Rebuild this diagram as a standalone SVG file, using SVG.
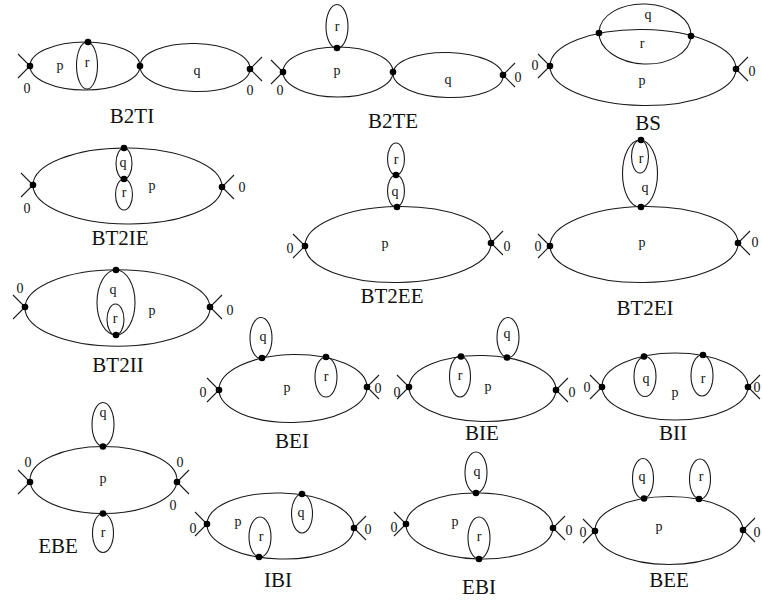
<svg xmlns="http://www.w3.org/2000/svg" xmlns:xlink="http://www.w3.org/1999/xlink" width="762" height="601" viewBox="0 0 762 601">
<style>
  .ln{fill:none;stroke:#1a1a1a;stroke-width:1.1}
  .t{font-family:"Liberation Serif","Times New Roman",serif;font-size:14px;fill:#111;text-anchor:middle}
  .ttl{font-family:"Liberation Serif","Times New Roman",serif;font-size:21px;fill:#111;text-anchor:middle}
</style>
<defs>
  <circle id="dot" r="3.3" fill="#000"/>
  <path id="xl" d="M-12,-12 L0,0 L-12,12" fill="none" stroke="#1a1a1a" stroke-width="1.1"/>
  <path id="xr" d="M12,-12 L0,0 L12,12" fill="none" stroke="#1a1a1a" stroke-width="1.1"/>
</defs>
<rect width="762" height="601" fill="#fff"/>

<g id="B2TI">
  <ellipse class="ln" cx="85" cy="66" rx="55" ry="24"/>
  <ellipse class="ln" cx="195" cy="67.5" rx="55" ry="24" transform="rotate(1.5 195 67.5)"/>
  <ellipse class="ln" cx="87" cy="65.5" rx="10.5" ry="23.5"/>
  <use href="#xl" x="30" y="66"/><use href="#xr" x="250" y="69"/>
  <use href="#dot" x="30" y="66"/><use href="#dot" x="140" y="66"/><use href="#dot" x="250" y="69"/><use href="#dot" x="88" y="42"/>
  <text class="t" x="60" y="70">p</text><text class="t" x="87" y="67">r</text><text class="t" x="197" y="75">q</text>
  <text class="t" x="27" y="93">0</text><text class="t" x="250" y="95">0</text>
  <text class="ttl" x="132" y="123">B2TI</text>
</g>

<g id="B2TE">
  <ellipse class="ln" cx="338" cy="72" rx="55" ry="25"/>
  <ellipse class="ln" cx="448" cy="75" rx="55" ry="22.5" transform="rotate(1.5 448 75)"/>
  <ellipse class="ln" cx="337" cy="26.5" rx="11" ry="22"/>
  <use href="#xl" x="283" y="72"/><use href="#xr" x="503" y="75"/>
  <use href="#dot" x="283" y="72"/><use href="#dot" x="393" y="72"/><use href="#dot" x="503" y="75"/><use href="#dot" x="337" y="48"/>
  <text class="t" x="337" y="31">r</text><text class="t" x="337" y="75">p</text><text class="t" x="448" y="84">q</text>
  <text class="t" x="280" y="95">0</text><text class="t" x="518" y="82">0</text>
  <text class="ttl" x="393" y="128">B2TE</text>
</g>

<g id="BS">
  <ellipse class="ln" cx="643" cy="67.5" rx="93" ry="38" transform="rotate(0.9 643 67.5)"/>
  <ellipse class="ln" cx="645" cy="34" rx="46" ry="30" transform="rotate(2.5 645 34)"/>
  <use href="#xl" x="550" y="66"/><use href="#xr" x="736" y="69"/>
  <use href="#dot" x="550" y="66"/><use href="#dot" x="736" y="69"/><use href="#dot" x="599" y="33"/><use href="#dot" x="691" y="36"/>
  <text class="t" x="648" y="19">q</text><text class="t" x="642" y="48">r</text><text class="t" x="642" y="85">p</text>
  <text class="t" x="535" y="70">0</text><text class="t" x="752" y="76">0</text>
  <text class="ttl" x="648" y="130">BS</text>
</g>

<g id="BT2IE">
  <ellipse class="ln" cx="127.5" cy="186" rx="94.5" ry="38" transform="rotate(0.6 127.5 186)"/>
  <ellipse class="ln" cx="124" cy="163.5" rx="8" ry="15.5"/>
  <ellipse class="ln" cx="124" cy="194.5" rx="8.5" ry="15.5"/>
  <use href="#xl" x="33" y="185"/><use href="#xr" x="222" y="187"/>
  <use href="#dot" x="33" y="185"/><use href="#dot" x="222" y="187"/><use href="#dot" x="124" y="148"/><use href="#dot" x="124" y="179"/>
  <text class="t" x="123" y="167">q</text><text class="t" x="124" y="197">r</text><text class="t" x="152" y="190">p</text>
  <text class="t" x="27" y="213">0</text><text class="t" x="242" y="192">0</text>
  <text class="ttl" x="120" y="245">BT2IE</text>
</g>

<g id="BT2II">
  <ellipse class="ln" cx="117.5" cy="308" rx="92.5" ry="38.3"/>
  <ellipse class="ln" cx="116" cy="302.5" rx="19" ry="32.5"/>
  <ellipse class="ln" cx="115.5" cy="319.5" rx="8.5" ry="15.5"/>
  <use href="#xl" x="25" y="307"/><use href="#xr" x="210" y="307"/>
  <use href="#dot" x="25" y="307"/><use href="#dot" x="210" y="307"/><use href="#dot" x="116" y="270"/><use href="#dot" x="116" y="335"/>
  <text class="t" x="113" y="294">q</text><text class="t" x="115" y="323">r</text><text class="t" x="152" y="315">p</text>
  <text class="t" x="20" y="293">0</text><text class="t" x="230" y="315">0</text>
  <text class="ttl" x="118" y="372">BT2II</text>
</g>

<g id="BT2EE">
  <ellipse class="ln" cx="398" cy="244.5" rx="93" ry="38" transform="rotate(-0.9 398 244.5)"/>
  <ellipse class="ln" cx="396" cy="191" rx="8.5" ry="16"/>
  <ellipse class="ln" cx="396" cy="159" rx="8.5" ry="16"/>
  <use href="#xl" x="305" y="246"/><use href="#xr" x="491" y="243"/>
  <use href="#dot" x="305" y="246"/><use href="#dot" x="491" y="243"/><use href="#dot" x="397" y="207"/><use href="#dot" x="396" y="175"/>
  <text class="t" x="396" y="164">r</text><text class="t" x="395" y="196">q</text><text class="t" x="385" y="248">p</text>
  <text class="t" x="290" y="253">0</text><text class="t" x="507" y="251">0</text>
  <text class="ttl" x="392" y="303">BT2EE</text>
</g>

<g id="BT2EI">
  <ellipse class="ln" cx="644" cy="244.5" rx="94" ry="38" transform="rotate(-0.9 644 244.5)"/>
  <ellipse class="ln" cx="640" cy="173.5" rx="17.5" ry="33.5"/>
  <ellipse class="ln" cx="640" cy="156.5" rx="8.5" ry="16.5"/>
  <use href="#xl" x="550" y="246"/><use href="#xr" x="738" y="243"/>
  <use href="#dot" x="550" y="246"/><use href="#dot" x="738" y="243"/><use href="#dot" x="641" y="207"/><use href="#dot" x="641" y="140"/>
  <text class="t" x="641" y="163">r</text><text class="t" x="645" y="192">q</text><text class="t" x="642" y="247">p</text>
  <text class="t" x="538" y="251">0</text><text class="t" x="755" y="247">0</text>
  <text class="ttl" x="645" y="315">BT2EI</text>
</g>

<g id="BEI">
  <ellipse class="ln" cx="293" cy="388.5" rx="74" ry="34" transform="rotate(-1.2 293 388.5)"/>
  <ellipse class="ln" cx="261" cy="338" rx="11" ry="20.5"/>
  <ellipse class="ln" cx="326" cy="377" rx="11" ry="20"/>
  <use href="#xl" x="219" y="390"/><use href="#xr" x="367" y="387"/>
  <use href="#dot" x="219" y="390"/><use href="#dot" x="367" y="387"/><use href="#dot" x="262" y="358"/><use href="#dot" x="326" y="357"/>
  <text class="t" x="263" y="341">q</text><text class="t" x="326" y="381">r</text><text class="t" x="287" y="392">p</text>
  <text class="t" x="203" y="397">0</text><text class="t" x="378" y="393">0</text>
  <text class="ttl" x="292" y="448">BEI</text>
</g>

<g id="BIE">
  <ellipse class="ln" cx="482.5" cy="388.5" rx="73.5" ry="33" transform="rotate(1.2 482.5 388.5)"/>
  <ellipse class="ln" cx="460" cy="376.5" rx="10.5" ry="20.5"/>
  <ellipse class="ln" cx="508" cy="337.5" rx="11" ry="20"/>
  <use href="#xl" x="409" y="387"/><use href="#xr" x="556" y="390"/>
  <use href="#dot" x="409" y="387"/><use href="#dot" x="556" y="390"/><use href="#dot" x="461" y="356.5"/><use href="#dot" x="507" y="357.5"/>
  <text class="t" x="460" y="380">r</text><text class="t" x="507" y="338">q</text><text class="t" x="488" y="391">p</text>
  <text class="t" x="397" y="397">0</text><text class="t" x="572" y="397">0</text>
  <text class="ttl" x="482" y="440">BIE</text>
</g>

<g id="BII">
  <ellipse class="ln" cx="675" cy="386.5" rx="73" ry="33.5"/>
  <ellipse class="ln" cx="645" cy="376.5" rx="11" ry="20"/>
  <ellipse class="ln" cx="702" cy="375.5" rx="11" ry="20.5"/>
  <use href="#xl" x="602" y="387"/><use href="#xr" x="748" y="387"/>
  <use href="#dot" x="602" y="387"/><use href="#dot" x="748" y="387"/><use href="#dot" x="644" y="356.5"/><use href="#dot" x="703" y="355"/>
  <text class="t" x="646" y="383">q</text><text class="t" x="703" y="383">r</text><text class="t" x="675" y="397">p</text>
  <text class="t" x="587" y="392">0</text><text class="t" x="757" y="392">0</text>
  <text class="ttl" x="673" y="440">BII</text>
</g>

<g id="EBE">
  <ellipse class="ln" cx="103.5" cy="480" rx="73.5" ry="33.5"/>
  <ellipse class="ln" cx="103" cy="424.5" rx="11" ry="22"/>
  <ellipse class="ln" cx="103" cy="533" rx="10.5" ry="19.5"/>
  <use href="#xl" x="30" y="482"/><use href="#xr" x="177" y="482"/>
  <use href="#dot" x="30" y="482"/><use href="#dot" x="177" y="482"/><use href="#dot" x="103" y="446.5"/><use href="#dot" x="103" y="513.5"/>
  <text class="t" x="103" y="417">q</text><text class="t" x="103" y="537">r</text><text class="t" x="103" y="483">p</text>
  <text class="t" x="28" y="467">0</text><text class="t" x="180" y="467">0</text><text class="t" x="173" y="510">0</text>
  <text class="ttl" x="58" y="553">EBE</text>
</g>

<g id="IBI">
  <ellipse class="ln" cx="280.5" cy="526" rx="73.5" ry="33" transform="rotate(1.5 280.5 526)"/>
  <ellipse class="ln" cx="302" cy="513.5" rx="10.5" ry="19.5"/>
  <ellipse class="ln" cx="260" cy="537" rx="11" ry="20"/>
  <use href="#xl" x="207" y="524"/><use href="#xr" x="354" y="528"/>
  <use href="#dot" x="207" y="524"/><use href="#dot" x="354" y="528"/><use href="#dot" x="302" y="494"/><use href="#dot" x="259" y="557"/>
  <text class="t" x="301" y="517">q</text><text class="t" x="261" y="541">r</text><text class="t" x="238" y="526">p</text>
  <text class="t" x="193" y="533">0</text><text class="t" x="368" y="534">0</text>
  <text class="ttl" x="278" y="587">IBI</text>
</g>

<g id="EBI">
  <ellipse class="ln" cx="479.5" cy="526" rx="73.5" ry="33" transform="rotate(1.5 479.5 526)"/>
  <ellipse class="ln" cx="476" cy="472.5" rx="11" ry="20.5"/>
  <ellipse class="ln" cx="479" cy="538" rx="11" ry="21"/>
  <use href="#xl" x="406" y="524"/><use href="#xr" x="553" y="528"/>
  <use href="#dot" x="406" y="524"/><use href="#dot" x="553" y="528"/><use href="#dot" x="476" y="493"/><use href="#dot" x="479" y="559"/>
  <text class="t" x="477" y="476">q</text><text class="t" x="479" y="541">r</text><text class="t" x="455" y="526">p</text>
  <text class="t" x="394" y="532">0</text><text class="t" x="569" y="535">0</text>
  <text class="ttl" x="479" y="594">EBI</text>
</g>

<g id="BEE">
  <ellipse class="ln" cx="669" cy="530.5" rx="74" ry="34"/>
  <ellipse class="ln" cx="643" cy="478.5" rx="10.5" ry="20"/>
  <ellipse class="ln" cx="700" cy="479" rx="10.5" ry="20"/>
  <use href="#xl" x="595" y="531"/><use href="#xr" x="743" y="530"/>
  <use href="#dot" x="595" y="531"/><use href="#dot" x="743" y="530"/><use href="#dot" x="644" y="498.5"/><use href="#dot" x="699" y="499"/>
  <text class="t" x="642" y="481">q</text><text class="t" x="701" y="481">r</text><text class="t" x="659" y="531">p</text>
  <text class="t" x="583" y="537">0</text><text class="t" x="757" y="537">0</text>
  <text class="ttl" x="669" y="587">BEE</text>
</g>

<g id="connectors"></g>
</svg>
